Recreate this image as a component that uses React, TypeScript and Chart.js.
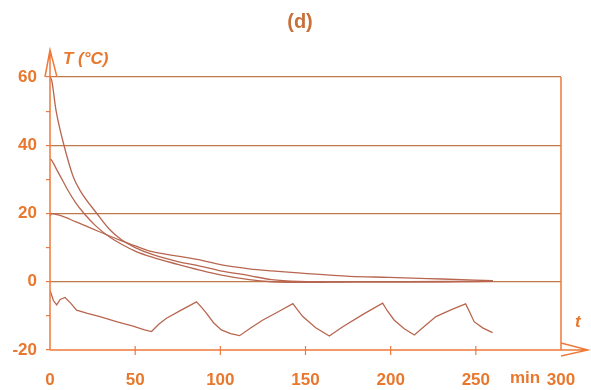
import { useEffect, useRef } from "react";
import { Chart, registerables } from "chart.js";
Chart.register(...registerables);

// Series (time in min, temperature in °C)
const timeA = [0, 1, 3.5, 8.2, 13.7, 17.6, 27.5, 35, 42, 50, 60, 75, 88, 100, 117, 130, 146, 170, 200, 230, 260];
const tempA = [60, 59, 50.3, 40, 30.7, 26.8, 20, 15.3, 12.3, 10, 8, 5.9, 4.6, 3.2, 1.8, 0.6, 0.1, 0, 0, 0, 0.1];

const timeB = [0, 1, 4, 7.8, 10.5, 15, 20, 27, 35, 42, 50, 60, 75, 88, 100, 117, 130, 150, 180, 210, 240, 260];
const tempB = [36, 35.6, 32.8, 29.3, 26.8, 23.2, 20, 16.3, 13.1, 11.0, 9.0, 7.2, 5.1, 3.4, 2.0, 0.6, 0, -0.2, 0, 0, 0.1, 0.2];

const timeC = [0, 1, 3, 6.8, 15, 25, 35, 41, 50, 60, 75, 88, 100, 117, 130, 146, 176, 199, 230, 260];
const tempC = [19.2, 20, 19.8, 19.3, 17.6, 15.5, 13.4, 12.2, 10.5, 8.8, 7.5, 6.4, 5.0, 3.8, 3.2, 2.6, 1.6, 1.3, 0.8, 0.3];

const timeD = [0, 2, 3.9, 6, 8.8, 12, 15.6, 22, 29.3, 40, 48.8, 55, 59.6, 64, 68.4, 77, 86, 89, 91.8, 96, 100.6, 106, 111.3, 118, 125, 134, 142.6, 145, 148.4, 156, 164, 168, 171.9, 184, 195.3, 198, 202, 208, 213.9, 220, 226.6, 235, 244, 246, 249, 254, 259.8];
const tempD = [-2.5, -5.5, -6.8, -5.2, -4.6, -6.2, -8.3, -9.3, -10.2, -11.8, -13, -14, -14.6, -12.4, -10.7, -8.3, -5.9, -7.5, -9.2, -12, -14.1, -15.2, -15.8, -13.5, -11.2, -8.8, -6.4, -8.0, -10.2, -13.5, -15.9, -14.5, -13.2, -9.5, -6.3, -8.5, -11.2, -13.8, -15.6, -13, -10.2, -8.3, -6.5, -8.5, -11.7, -13.5, -14.9];

const xTicks = [0, 50, 100, 150, 200, 250, 300];
const yTicks = [-20, 0, 20, 40, 60];

const AXIS = "#ee7a3a";
const GRID = "#c07a4a";
const DATA = "#b86650";
const TEXT = "#e8782e";
const FONT = "'Liberation Sans', Arial, sans-serif";

function pts(xs: number[], ys: number[]) {
  return xs.map((x, i) => ({ x, y: ys[i] }));
}

export default function App() {
  const ref = useRef<HTMLCanvasElement>(null);
  useEffect(() => {
    const overlay = {
      id: "overlay",
      afterDraw(chart: any) {
        const { ctx, chartArea } = chart;
        const { left, right, top, bottom } = chartArea;
        const xs = chart.scales.x;
        ctx.save();
        ctx.strokeStyle = AXIS;
        ctx.lineWidth = 1.5;
        ctx.beginPath();
        ctx.moveTo(left, bottom);
        ctx.lineTo(left, top - 27);
        ctx.moveTo(left - 5, top);
        ctx.lineTo(left, top - 27);
        ctx.lineTo(left + 7, top);
        ctx.moveTo(left, bottom);
        ctx.lineTo(right + 27, bottom);
        ctx.moveTo(right, bottom - 7);
        ctx.lineTo(right + 27, bottom);
        ctx.lineTo(right, bottom + 6);
        ctx.moveTo(right, top);
        ctx.lineTo(right, bottom);
        ctx.stroke();
        ctx.lineWidth = 1.2;
        ctx.beginPath();
        for (const v of xTicks) {
          if (v === 0 || v === 300) continue;
          const px = xs.getPixelForValue(v);
          ctx.moveTo(px, bottom - 4);
          ctx.lineTo(px, bottom + 5);
        }
        ctx.stroke();
        ctx.fillStyle = TEXT;
        ctx.textBaseline = "middle";
        ctx.textAlign = "left";
        ctx.font = `italic bold 17px ${FONT}`;
        ctx.fillText("T (°C)", left + 13, top - 18);
        ctx.fillText("t", right + 14, bottom - 28);
        ctx.font = `bold 17px ${FONT}`;
        ctx.textAlign = "center";
        ctx.fillText("min", right - 36, bottom + 28);
        ctx.fillStyle = "#c8703c";
        ctx.font = `bold 20px ${FONT}`;
        ctx.fillText("(d)", 300, 22);
        ctx.restore();
      },
    };
    const line = (xs: number[], ys: number[], tension: number) => ({
      data: pts(xs, ys),
      showLine: true,
      borderColor: DATA,
      borderWidth: 1.3,
      pointRadius: 0,
      tension,
      cubicInterpolationMode: tension > 0 ? ("monotone" as const) : ("default" as const),
    });
    const chart = new Chart(ref.current!, {
      type: "scatter",
      data: {
        datasets: [
          line(timeA, tempA, 0.4),
          line(timeB, tempB, 0.4),
          line(timeC, tempC, 0.4),
          line(timeD, tempD, 0),
        ],
      },
      options: {
        animation: false,
        responsive: false,
        maintainAspectRatio: false,
        layout: { padding: { top: 77, right: 30, left: 0, bottom: 0 } },
        plugins: { legend: { display: false }, tooltip: { enabled: false } },
        scales: {
          x: {
            type: "linear",
            min: 0,
            max: 300,
            afterBuildTicks: (s: any) => {
              s.ticks = xTicks.map((v) => ({ value: v }));
            },
            afterFit: (s: any) => {
              s.height = 40;
            },
            border: { display: false },
            grid: { display: true, drawOnChartArea: false, drawTicks: true, tickLength: 18, color: "rgba(0,0,0,0)", tickColor: "rgba(0,0,0,0)" },
            ticks: {
              autoSkip: false,
              maxRotation: 0,
              padding: 2,
              color: TEXT,
              font: { family: FONT, size: 17, weight: "bold" },
              callback: (v: any) => String(v),
            },
          },
          y: {
            type: "linear",
            min: -20,
            max: 60,
            afterFit: (s: any) => {
              s.width = 50;
            },
            border: { display: false },
            grid: {
              color: (c: any) =>
                c.tick && yTicks.includes(c.tick.value) && c.tick.value !== -20 ? GRID : "rgba(0,0,0,0)",
              tickColor: AXIS,
              tickLength: 4,
              lineWidth: 1.2,
            },
            ticks: {
              stepSize: 10,
              padding: 9,
              color: TEXT,
              font: { family: FONT, size: 17, weight: "bold" },
              callback: (v: any) => (yTicks.includes(v) ? String(v) : ""),
            },
          },
        },
      },
      plugins: [overlay],
    });
    return () => chart.destroy();
  }, []);
  return (
    <div style={{ position: "fixed", left: 0, top: 0, width: 591, height: 390, background: "#fff" }}>
      <canvas ref={ref} width={591} height={390} style={{ width: 591, height: 390, display: "block" }} />
    </div>
  );
}
